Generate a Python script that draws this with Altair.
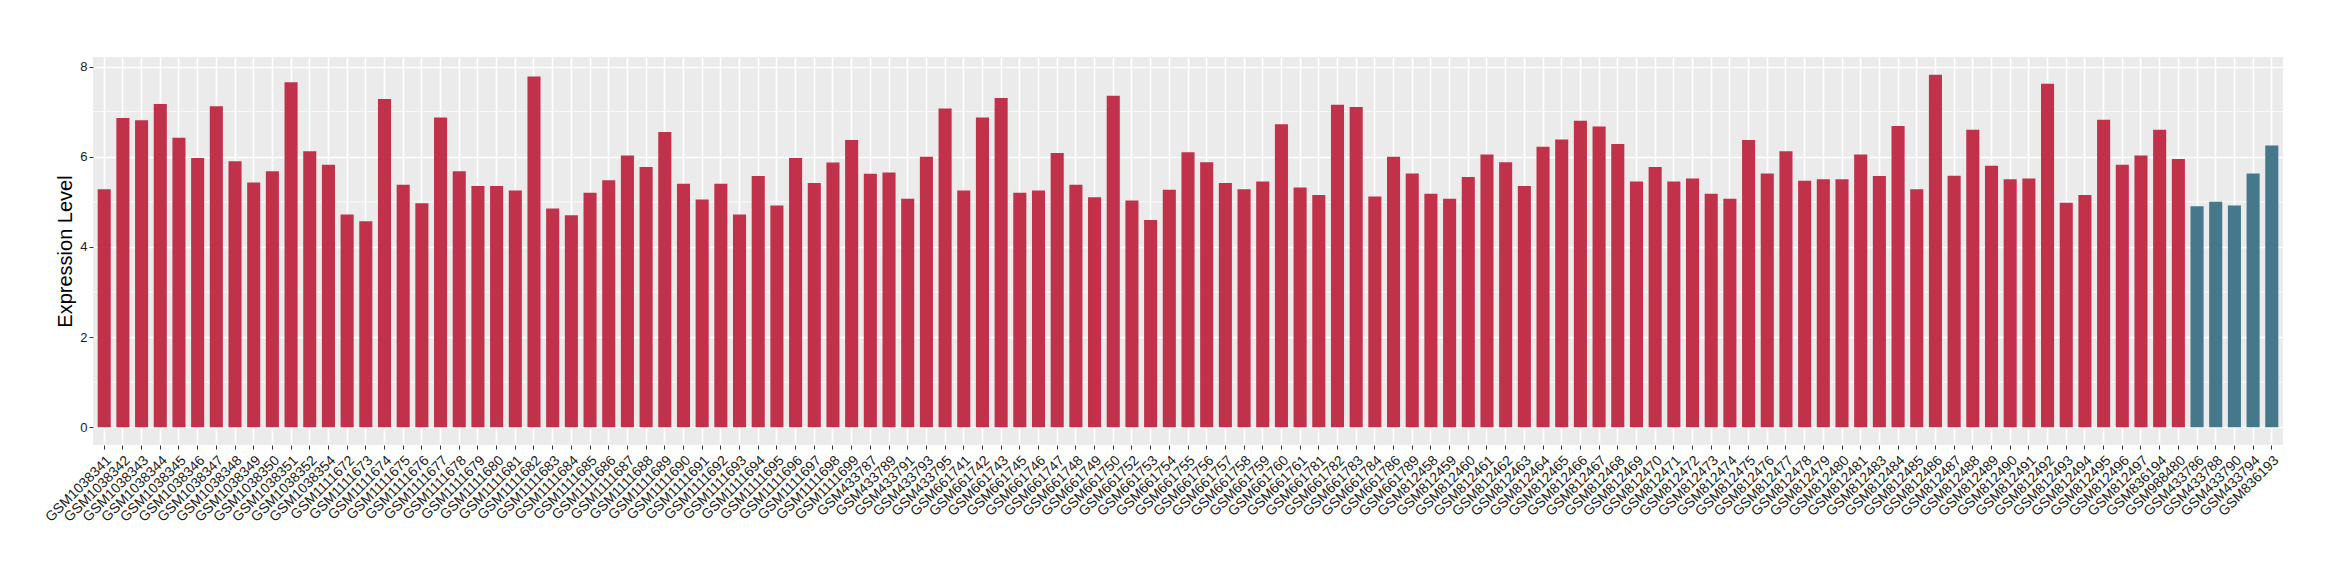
import altair as alt
import pandas as pd

samples = (
    [f"GSM10383{n}" for n in [41, 42, 43, 44, 45, 46, 47, 48, 49, 50, 51, 52, 54]]
    + [f"GSM1111{n}" for n in range(672, 700)]
    + [f"GSM433{n}" for n in [787, 789, 791, 793, 795]]
    + [f"GSM661{n}" for n in [741, 742, 743, 745, 746, 747, 748, 749, 750, 752, 753, 754,
                              755, 756, 757, 758, 759, 760, 761, 781, 782, 783, 784, 786, 789]]
    + [f"GSM812{n}" for n in list(range(458, 482)) + list(range(483, 498))]
    + ["GSM836194", "GSM988480"]
    + ["GSM433786", "GSM433788", "GSM433790", "GSM433794", "GSM836193"]
)

values = [
    5.28, 6.86, 6.81, 7.17, 6.42, 5.97, 7.12, 5.90, 5.43, 5.68, 7.65, 6.12, 5.82,
    4.72, 4.57, 7.28, 5.38, 4.97, 6.87, 5.68, 5.35, 5.35, 5.25, 7.78, 4.85, 4.70,
    5.20, 5.48, 6.03, 5.77, 6.55, 5.40, 5.05, 5.40, 4.72, 5.57, 4.92, 5.97, 5.42,
    5.87, 6.37,
    5.62, 5.65, 5.07, 6.00, 7.07,
    5.25, 6.87, 7.30, 5.20, 5.25, 6.08, 5.38, 5.10, 7.35, 5.03, 4.60, 5.27, 6.10,
    5.88, 5.42, 5.28, 5.45, 6.72, 5.32, 5.15, 7.15, 7.10, 5.12, 6.00, 5.63,
    5.18, 5.07, 5.55, 6.05, 5.88, 5.35, 6.22, 6.38, 6.80, 6.67, 6.28, 5.45, 5.77,
    5.45, 5.52, 5.18, 5.07, 6.37, 5.63, 6.12, 5.47, 5.50, 5.50, 6.05, 5.57, 6.68,
    5.28, 7.82, 5.58, 6.60, 5.80, 5.50, 5.52, 7.62, 4.98, 5.15, 6.82, 5.82, 6.03,
    6.60, 5.95,
    4.90, 5.00, 4.92, 5.63, 6.25,
]

groups = ["case"] * 112 + ["control"] * 5
group_domain = ["case", "control"]
group_colors = ["#C1324A", "#44788A"]

minor_breaks = [1, 3, 5, 7]
major_breaks = [0, 2, 4, 6, 8]

df = pd.DataFrame({"sample": samples, "value": values, "group": groups})
minor_df = pd.DataFrame({"value": minor_breaks})

FONT = "Liberation Sans"
yscale = alt.Scale(domain=[-0.391, 8.211], nice=False, zero=False)

y_axis = alt.Axis(
    title="Expression Level",
    titleFont=FONT,
    titleFontSize=20,
    titleFontWeight="normal",
    titleColor="black",
    titleX=-28,
    titleY=194,
    titleAlign="center",
    titleBaseline="middle",
    titleAngle=270,
    values=major_breaks,
    labelFont=FONT,
    labelFontSize=13,
    labelColor="#1A1A1A",
    labelPadding=2,
    grid=True,
    gridColor="white",
    gridWidth=1.6,
    tickColor="#333333",
    tickSize=4,
    tickWidth=1,
    domain=False,
)

minor = alt.Chart(minor_df).mark_rule(color="white", strokeWidth=0.8).encode(
    y=alt.Y("value:Q", scale=yscale, axis=y_axis)
)

bars = alt.Chart(df).mark_bar().encode(
    x=alt.X(
        "sample:N",
        sort=samples,
        scale=alt.Scale(paddingInner=0.3, paddingOuter=0.25),
        axis=alt.Axis(
            title=None,
            labelAngle=-45,
            labelAlign="right",
            labelBaseline="top",
            labelPadding=4,
            labelFont=FONT,
            labelFontSize=14,
            labelColor="#1A1A1A",
            labelOverlap=False,
            bandPosition=0.5,
            grid=True,
            gridColor="white",
            gridWidth=1.6,
            tickColor="#333333",
            tickSize=4,
            tickWidth=1,
            domain=False,
        ),
    ),
    y=alt.Y("value:Q", scale=yscale, axis=y_axis),
    color=alt.Color(
        "group:N",
        scale=alt.Scale(domain=group_domain, range=group_colors),
        legend=None,
    ),
)

chart = (
    alt.layer(minor, bars)
    .properties(
        width=2190,
        height=388,
        autosize=alt.AutoSizeParams(type="none"),
        padding={"left": 85, "top": 49, "right": 40, "bottom": 120},
        background="white",
    )
    .configure_view(fill="#EBEBEB", stroke=None)
)

chart.save("out.html", embed_options={"renderer": "svg", "actions": False})
